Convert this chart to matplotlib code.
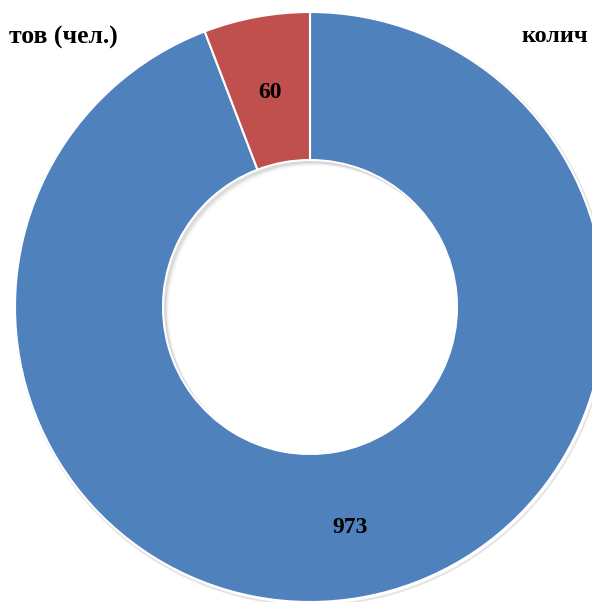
import matplotlib.pyplot as plt
from matplotlib.patches import Circle

values = [973, 60]
colors = ['#4F81BD', '#C0504D']
left_title = 'тов (чел.)'
right_title = 'колич'

total = sum(values)
cx, cy, r_out, ring = 310, 602 - 307, 295, 148

fig = plt.figure(figsize=(5.92, 6.02), dpi=100)
ax = fig.add_axes([0, 0, 1, 1])

# soft shadow under the ring
ax.add_patch(Circle((cx + 1.5, cy - 2), r_out + 1, facecolor='none',
                    edgecolor='#c0c0c0', linewidth=1.5, alpha=0.4, zorder=0))

wedges, texts, autotexts = ax.pie(
    values, colors=colors, startangle=90, counterclock=False,
    center=(cx, cy), radius=r_out, frame=True,
    autopct=lambda p: f'{p * total / 100:.0f}', pctdistance=0.75,
    wedgeprops=dict(width=ring, edgecolor='white', linewidth=1.5),
    textprops=dict(fontsize=17, fontweight='bold', family='Liberation Serif', color='black'))
for t in autotexts:
    x, y = t.get_position()
    t.set_position((x, y - 3))

# inner shadow in the hole
r_in = r_out - ring
hole = Circle((cx, cy), r_in - 1, transform=ax.transData)
for k, a in enumerate([0.16, 0.10, 0.06, 0.03]):
    c = Circle((cx + 2 + k, cy - 2 - k), r_in + 1, facecolor='none',
               edgecolor='#808080', linewidth=3, alpha=a, zorder=3)
    c.set_clip_path(hole)
    ax.add_patch(c)

ax.set_xlim(0, 592)
ax.set_ylim(0, 602)
ax.set_aspect('equal')
ax.axis('off')

fig.text(118 / 592, 1 - 37 / 602, left_title, ha='right', va='center',
         fontsize=18.5, fontweight='bold', family='Liberation Serif')
fig.text(522 / 592, 1 - 37 / 602, right_title, ha='left', va='center',
         fontsize=17.5, fontweight='bold', family='Liberation Serif')

fig.savefig('out.png', dpi=100, facecolor='white')
